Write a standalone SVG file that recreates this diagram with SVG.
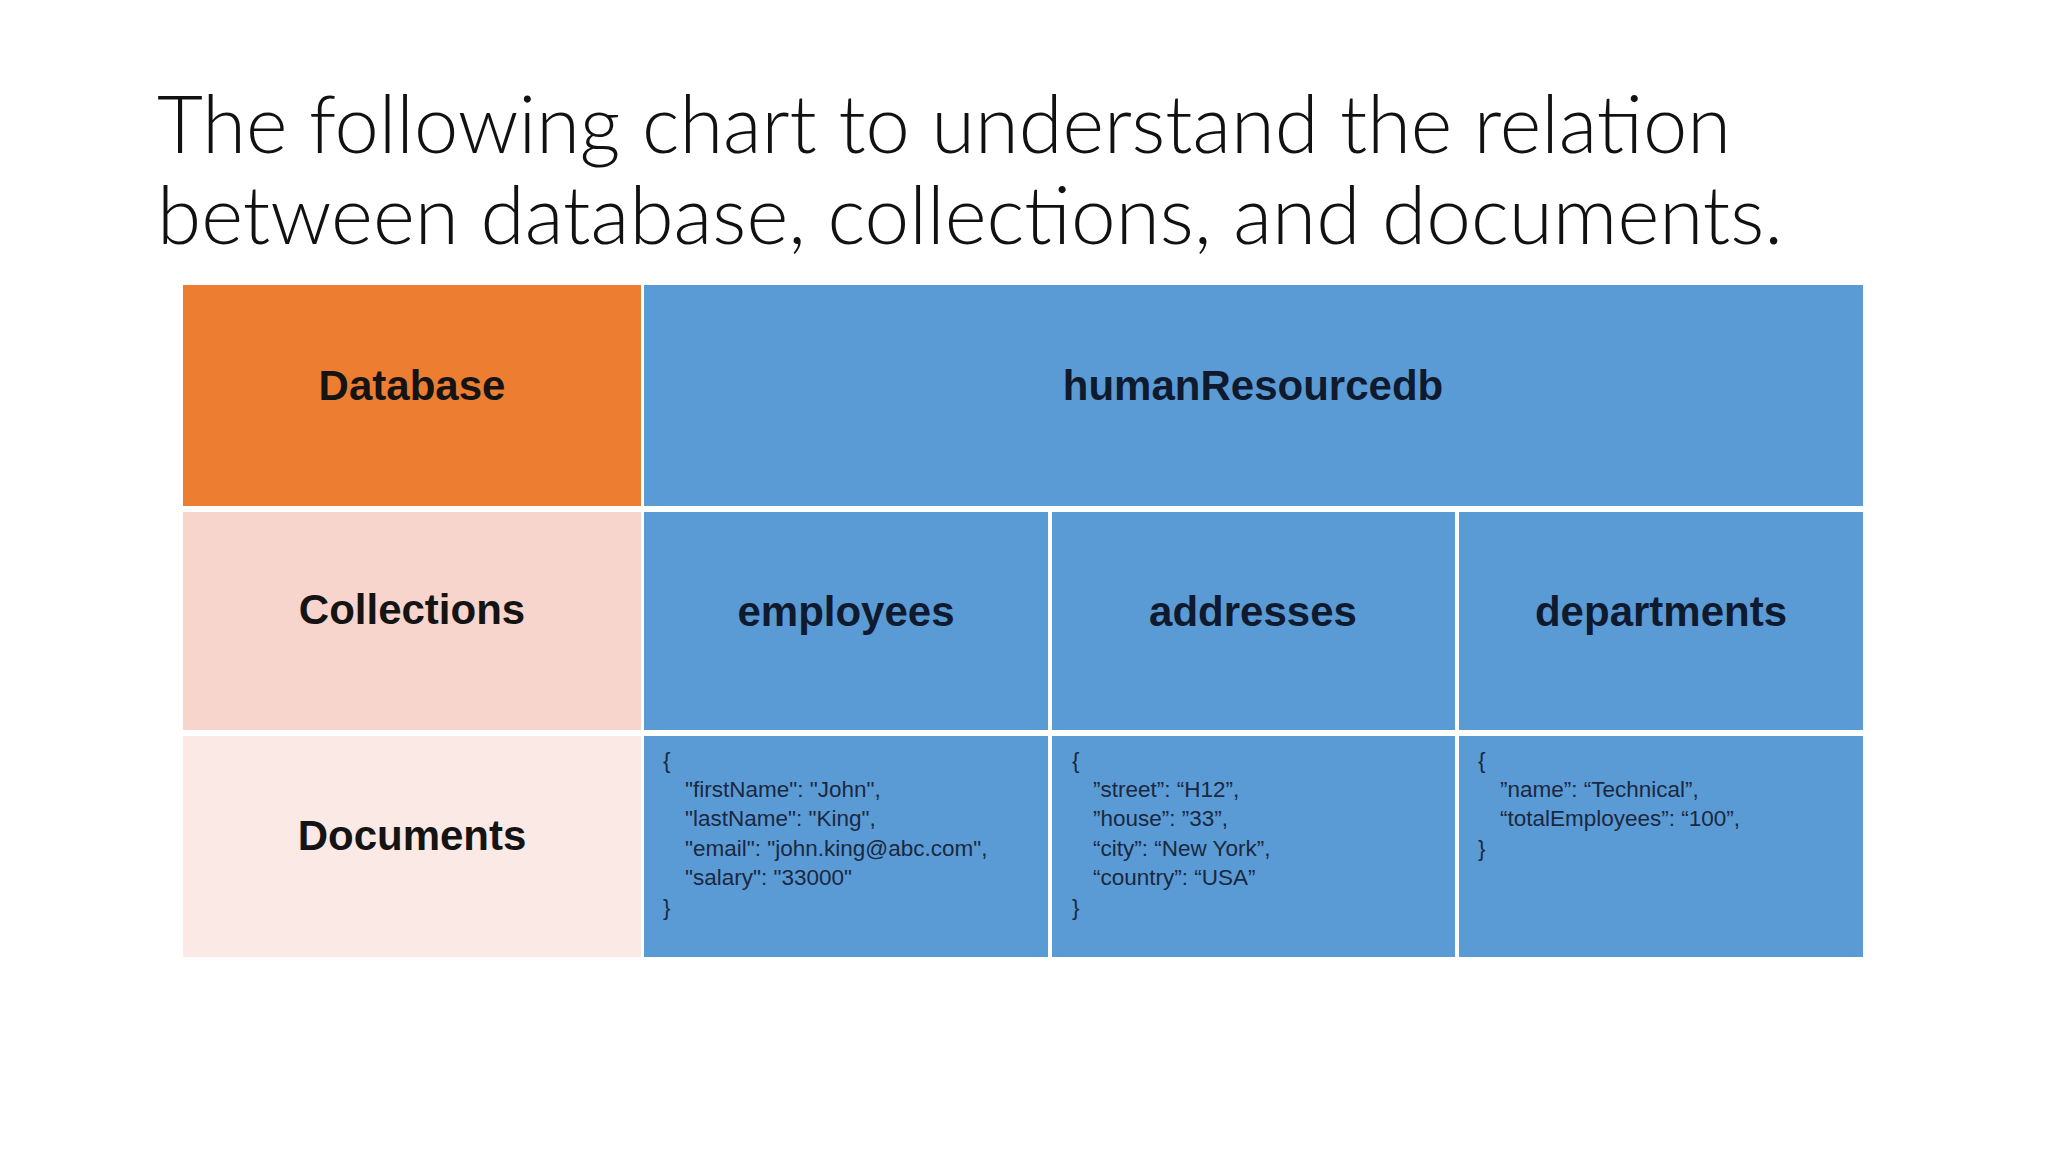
<svg xmlns="http://www.w3.org/2000/svg" width="2048" height="1152" viewBox="0 0 2048 1152">
<style>
.title{font-family:Lato,"Liberation Sans",sans-serif;font-weight:300;font-size:80px;fill:#111}
.hd{font-family:"Liberation Sans",Arial,sans-serif;font-weight:bold;font-size:42px;fill:#141414;text-anchor:middle}
.hb{fill:#0f1a2e}
.doc{font-family:"Liberation Sans",Arial,sans-serif;font-size:22.5px;fill:#1a2840}
.blue{fill:#5B9BD5}
</style>
<rect width="2048" height="1152" fill="#ffffff"/>
<g id="title">
<text class="title" x="157" y="153" textLength="1574" lengthAdjust="spacingAndGlyphs">The following chart to understand the relation</text>
<text class="title" x="157" y="244" textLength="1626" lengthAdjust="spacingAndGlyphs">between database, collections, and documents.</text>
</g>
<g id="row-database">
<rect x="183" y="285" width="458" height="221" fill="#ED7D31"/>
<text class="hd" x="412" y="400">Database</text>
</g>
<g id="humanResourcedb">
<rect class="blue" x="644" y="285" width="1219" height="221"/>
<text class="hd hb" x="1253" y="400">humanResourcedb</text>
</g>
<g id="row-collections">
<rect x="183" y="512" width="458" height="218" fill="#F7D5CC"/>
<text class="hd" x="412" y="624">Collections</text>
</g>
<g id="employees">
<rect class="blue" x="644" y="512" width="404" height="218"/>
<text class="hd hb" x="846" y="626">employees</text>
</g>
<g id="addresses">
<rect class="blue" x="1052" y="512" width="403" height="218"/>
<text class="hd hb" x="1253" y="626">addresses</text>
</g>
<g id="departments">
<rect class="blue" x="1459" y="512" width="404" height="218"/>
<text class="hd hb" x="1661" y="626">departments</text>
</g>
<g id="row-documents">
<rect x="183" y="736" width="458" height="221" fill="#FBE9E6"/>
<text class="hd" x="412" y="850">Documents</text>
</g>
<g id="doc-employees">
<rect class="blue" x="644" y="736" width="404" height="221"/>
<text class="doc" x="663" y="768">{</text>
<text class="doc" x="685" y="797">"firstName": "John",</text>
<text class="doc" x="685" y="826">"lastName": "King",</text>
<text class="doc" x="685" y="856">"email": "john.king@abc.com",</text>
<text class="doc" x="685" y="885">"salary": "33000"</text>
<text class="doc" x="663" y="915">}</text>
</g>
<g id="doc-addresses">
<rect class="blue" x="1052" y="736" width="403" height="221"/>
<text class="doc" x="1072" y="768">{</text>
<text class="doc" x="1093" y="797">”street”: “H12”,</text>
<text class="doc" x="1093" y="826">”house”: ”33”,</text>
<text class="doc" x="1093" y="856">“city”: “New York”,</text>
<text class="doc" x="1093" y="885">“country”: “USA”</text>
<text class="doc" x="1072" y="915">}</text>
</g>
<g id="doc-departments">
<rect class="blue" x="1459" y="736" width="404" height="221"/>
<text class="doc" x="1478" y="768">{</text>
<text class="doc" x="1500" y="797">”name”: “Technical”,</text>
<text class="doc" x="1500" y="826">“totalEmployees”: “100”,</text>
<text class="doc" x="1478" y="856">}</text>
</g>
<g id="connectors"></g>
</svg>
